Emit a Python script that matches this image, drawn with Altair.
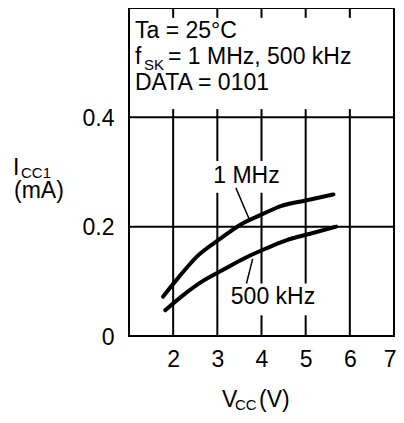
import altair as alt
import pandas as pd

FONT = "Liberation Sans"

# Curves
vcc_1mhz = [1.77, 2.1, 2.56, 3.05, 3.55, 4.0, 4.45, 5.0, 5.63]
icc_1mhz = [0.072, 0.105, 0.147, 0.177, 0.205, 0.222, 0.238, 0.248, 0.259]
vcc_500k = [1.82, 2.2, 2.64, 3.15, 3.66, 4.1, 4.56, 5.1, 5.69]
icc_500k = [0.047, 0.073, 0.099, 0.122, 0.144, 0.160, 0.175, 0.187, 0.200]

x_ticks = [2, 3, 4, 5, 6, 7]
y_ticks = [0, 0.2, 0.4]
grid_x = [2, 3, 4, 5, 6]
grid_y = [0.2, 0.4]

labels = ["1 MHz", "500 kHz"]
label_x = [3.66, 4.26]
label_y = [0.293, 0.071]
leader_x = [3.42, 3.80]
leader_y = [0.271, 0.141]
leader_x2 = [3.72, 3.66]
leader_y2 = [0.214, 0.096]
gap_x = [2.9, 3.26]
gap_x2 = [4.42, 5.25]
gap_y = [0.262, 0.038]
gap_y2 = [0.32, 0.096]

XS = alt.Scale(domain=[1, 7], nice=False, zero=False)
YS = alt.Scale(domain=[0, 0.6], nice=False)
XA = alt.Axis(values=x_ticks, grid=False, ticks=False, domain=False, title=None,
              labelFontSize=23, labelFont=FONT, labelColor="black", labelPadding=12,
              labelFlush=True, labelFlushOffset=2)
YA = alt.Axis(values=y_ticks, grid=False, ticks=False, domain=False, title=None, format=".1~f",
              labelFontSize=23, labelFont=FONT, labelColor="black", labelPadding=15,
              labelFlush=False, labelOffset=1)


def X(f):
    return alt.X(f, type="quantitative", scale=XS, axis=XA)


def Y(f):
    return alt.Y(f, type="quantitative", scale=YS, axis=YA)


curves = pd.DataFrame({
    "x": vcc_1mhz + vcc_500k,
    "y": icc_1mhz + icc_500k,
    "s": ["1 MHz"] * len(vcc_1mhz) + ["500 kHz"] * len(vcc_500k),
})

vgrid = alt.Chart(pd.DataFrame({"x": grid_x})).mark_rule(color="black", strokeWidth=2).encode(
    x=X("x"), y=alt.datum(0, scale=YS), y2=alt.datum(0.4))
hgrid = alt.Chart(pd.DataFrame({"y": grid_y})).mark_rule(color="black", strokeWidth=2).encode(
    y=Y("y"), x=alt.datum(1, scale=XS), x2=alt.datum(7))
top_ticks = alt.Chart(pd.DataFrame({"x": grid_x})).mark_rule(color="black", strokeWidth=2).encode(
    x=X("x"), y=alt.datum(0.6, scale=YS), y2=alt.datum(0.582))
mid_ticks = alt.Chart(pd.DataFrame({"x": grid_x})).mark_rule(color="black", strokeWidth=2).encode(
    x=X("x"), y=alt.datum(0.4, scale=YS), y2=alt.datum(0.415))

gaps = alt.Chart(pd.DataFrame({"x": gap_x, "x2": gap_x2, "y": gap_y, "y2": gap_y2})).mark_rect(
    color="white").encode(x=X("x"), x2="x2", y=Y("y"), y2="y2")

lines = alt.Chart(curves).mark_line(color="black", strokeWidth=4, interpolate="monotone",
                                    strokeCap="round").encode(
    x=X("x"), y=Y("y"), detail="s:N")

leaders = alt.Chart(pd.DataFrame({"x": leader_x, "y": leader_y, "x2": leader_x2, "y2": leader_y2})).mark_rule(
    color="black", strokeWidth=1.5).encode(x=X("x"), y=Y("y"), x2="x2", y2="y2")

lab = alt.Chart(pd.DataFrame({"x": label_x, "y": label_y, "t": labels})).mark_text(
    font=FONT, fontSize=23, align="center", baseline="middle", color="black").encode(
    x=X("x"), y=Y("y"), text="t:N")


def txt(s, px, py, size=23):
    return alt.Chart(pd.DataFrame({"t": [s]})).mark_text(
        font=FONT, fontSize=size, align="left", baseline="alphabetic", color="black").encode(
        x=alt.value(px - 129), y=alt.value(py - 8), text="t:N")


texts = [
    txt("Ta = 25°C", 135, 38),
    txt("f", 135, 64),
    txt("SK", 144, 70, 15),
    txt("= 1 MHz, 500 kHz", 168, 64),
    txt("DATA = 0101", 135, 90),
    txt("I", 13, 175),
    txt("CC1", 21, 178, 15),
    txt("(mA)", 14, 198),
    txt("V", 222, 407),
    txt("CC", 235, 410, 15),
    txt("(V)", 259, 407),
]

chart = alt.layer(vgrid, hgrid, top_ticks, mid_ticks, gaps, lines, leaders, lab, *texts).properties(
    width=265, height=328,
    padding={"left": 121, "top": 0, "right": 2, "bottom": 76},
    autosize=alt.AutoSizeParams(type="none"),
).configure_view(stroke="black", strokeWidth=2)

chart.save("out.html", embed_options={"renderer": "svg", "actions": False})
